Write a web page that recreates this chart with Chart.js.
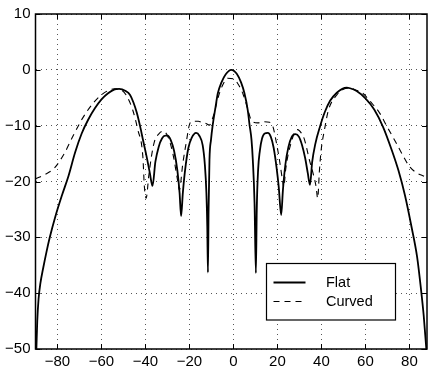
<!DOCTYPE html>
<html>
<head>
<meta charset="utf-8">
<script src="https://cdn.jsdelivr.net/npm/chart.js@4/dist/chart.umd.min.js"></script>
<style>
  html, body { margin: 0; padding: 0; background: #fff; }
  canvas { display: block; }
</style>
</head>
<body>
<canvas id="pattern" width="428" height="372"></canvas>
<script>
// angle (deg) / level (dB)
const flatX = [-89.6, -89.2, -88.6, -87.8, -86.5, -85, -83.5, -81, -78, -75, -72, -69, -66, -63, -60, -57, -54, -52, -49, -47, -45.5,
    -44, -42.5, -41, -39.5, -38, -36.8,
    -35.5, -34, -32.5, -31, -29.9, -28.5, -27, -25.5, -24.5, -23.8, -23, -22, -20.5, -19, -17, -15.5, -14, -13, -12.3, -11.9, -11.6,
    -11.3, -10.9, -10.2, -9.4, -8.2, -7.1, -5.5, -3.5, -1, 1.5, 3.5, 5, 6.5, 7.3, 8.2, 8.8, 9.6, 10.2,
    10.6, 11.2, 12, 13, 14.2, 15.6, 17, 18.3, 19.6, 20.6, 21.7, 22.5, 23.6, 25, 26.5, 28.2, 29.8, 31.2, 32.6, 33.8, 34.8,
    35.8, 37.2, 39.4, 41.5, 44, 47, 49.5, 51.5, 53, 56, 60, 64, 68, 72, 75, 78, 81, 83.5, 85.3, 86.5, 87.2, 87.7];
const flatY = [-50, -45, -41, -38.3, -35.5, -32.6, -30, -26.3, -22.5, -19, -14.8, -11.4, -8.9, -6.9, -5.3, -4.2, -3.5, -3.4, -3.8, -4.5, -5.8,
    -7.6, -10, -12.8, -15.5, -18.5, -20.8,
    -16.5, -13.8, -12.3, -11.8, -11.8, -12.6, -14.5, -18, -22, -26.2, -22, -18, -14, -12.2, -11.3, -11.8, -13.5, -17, -22, -28, -36.3,
    -25, -16.1, -12.5, -9.8, -6.8, -4.2, -2.3, -0.8, 0, -0.7, -2.3, -4.2, -7.2, -9.8, -12.5, -16.1, -24, -36.4,
    -25, -18, -14.5, -12.3, -11.4, -11.3, -12, -14, -17.5, -21, -26, -21.5, -17, -13.8, -12, -11.5, -12, -13.5, -15.8, -18.5, -20.6,
    -16.5, -13.3, -10.1, -7.6, -5.5, -4.1, -3.4, -3.2, -3.3, -3.8, -5.1, -7.1, -10.2, -14.4, -18, -22.5, -28.2, -33.5, -39.4, -44, -47.5, -50];

const curvedX = [-90, -86, -81.4, -76.8, -73, -68.5, -63.2, -57.9, -54.1, -51, -48.8, -45.8, -43.5, -41.2, -40.5, -39.7,
    -38.5, -37.4, -35.9, -34, -32.1, -30, -27.6, -25.3, -24.6, -23, -21.5, -20, -18.5, -16, -14, -12.5, -11, -9.5, -8.6,
    -7, -5, -2.6, 0, 2.5, 4.5, 6.5, 7.8, 8.8, 11, 13.5, 16.4, 17.9, 19.5, 20.9, 22.4, 22.9, 23.7, 24.7, 26.2, 27.7, 29.2,
    30.8, 32.3, 34.5, 36.5, 37.6, 38.3, 39.1, 39.9, 41.4, 43.2, 47, 50, 53, 55.5, 58.8, 62.5, 66.4, 70, 74, 77, 80, 83.5, 86.8, 88];
const curvedY = [-19.5, -18.8, -17.6, -14.9, -11.9, -8.6, -5.7, -3.9, -3.4, -3.6, -4.5, -7.2, -10.7, -15.5, -20.9, -23,
    -19, -15.8, -12.8, -11.5, -11, -11.8, -14.9, -20, -21.5, -16.7, -13.1, -9.8, -9.2, -9.2, -9.5, -9.6, -9.9, -8.7, -7.5,
    -5, -2.8, -1.5, -1.6, -2.8, -4.5, -7, -8.8, -9.3, -9.5, -9.3, -9.4, -10.1, -13, -16.1, -20, -21, -18, -15.5, -13.1, -11.3, -10.7,
    -11.3, -12.5, -16.1, -19, -21, -23, -18, -14.3, -10.7, -7.2, -4.5, -3.5, -3.3, -3.6, -4.2, -5.8, -7.7, -10.3, -13.1, -15.3, -17.3, -18.5, -19.1, -19.4];

const xTicks = [-80, -60, -40, -20, 0, 20, 40, 60, 80];
const yTicks = [-50, -40, -30, -20, -10, 0, 10];
const seriesLabels = ['Flat', 'Curved'];

const FONT = '"Liberation Sans", Arial, sans-serif';
const toPoints = (xs, ys) => xs.map((x, i) => ({ x: x, y: ys[i] }));
const minusSign = v => String(v).replace('-', '\u2212');

// MATLAB style: box, inward ticks, legend in lower right
const matlabFrame = {
    id: 'matlabFrame',
    afterDraw(chart) {
        const { ctx, chartArea: a, scales } = chart;
        ctx.save();
        ctx.strokeStyle = '#000';
        ctx.lineWidth = 1;
        ctx.beginPath();
        xTicks.forEach(v => {
            const px = Math.round(scales.x.getPixelForValue(v)) + 0.5;
            ctx.moveTo(px, a.bottom); ctx.lineTo(px, a.bottom - 5);
            ctx.moveTo(px, a.top); ctx.lineTo(px, a.top + 5);
        });
        yTicks.forEach(v => {
            const py = Math.round(scales.y.getPixelForValue(v)) + 0.5;
            ctx.moveTo(a.left, py); ctx.lineTo(a.left + 5, py);
            ctx.moveTo(a.right, py); ctx.lineTo(a.right - 5, py);
        });
        ctx.stroke();

        ctx.lineWidth = 1.5;
        ctx.strokeRect(a.left, a.top, a.right - a.left, a.bottom - a.top);

        // legend
        const lx = a.right - 160.5, ly = a.bottom - 85.5;
        ctx.fillStyle = '#fff';
        ctx.fillRect(lx, ly, 129, 56.5);
        ctx.lineWidth = 1.2;
        ctx.strokeRect(lx, ly, 129, 56.5);
        chart.data.datasets.forEach((ds, i) => {
            const y = ly + 19 + i * 19;
            ctx.beginPath();
            ctx.lineWidth = ds.borderWidth;
            ctx.setLineDash(ds.borderDash || []);
            ctx.moveTo(lx + 7, y);
            ctx.lineTo(lx + 39, y);
            ctx.stroke();
            ctx.setLineDash([]);
            ctx.fillStyle = '#000';
            ctx.font = '14.5px ' + FONT;
            ctx.textBaseline = 'middle';
            ctx.fillText(ds.label, lx + 59.5, y);
        });
        ctx.restore();
    }
};

new Chart(document.getElementById('pattern'), {
    type: 'line',
    data: {
        datasets: [
            {
                label: seriesLabels[0],
                data: toPoints(flatX, flatY),
                borderColor: '#000',
                borderWidth: 1.8,
                pointRadius: 0,
                cubicInterpolationMode: 'monotone',
                fill: false
            },
            {
                label: seriesLabels[1],
                data: toPoints(curvedX, curvedY),
                borderColor: '#000',
                borderWidth: 1.1,
                borderDash: [6, 5],
                pointRadius: 0,
                cubicInterpolationMode: 'monotone',
                fill: false
            }
        ]
    },
    options: {
        responsive: false,
        animation: false,
        layout: { padding: { top: 14, right: 1, left: 0, bottom: 0 } },
        plugins: {
            legend: { display: false },
            tooltip: { enabled: false }
        },
        scales: {
            x: {
                type: 'linear',
                min: -90,
                max: 88,
                afterBuildTicks: sc => { sc.ticks = xTicks.map(v => ({ value: v })); },
                afterFit: sc => { sc.height = 23; },
                ticks: {
                    color: '#000',
                    font: { size: 15, family: FONT },
                    padding: 4,
                    maxRotation: 0,
                    autoSkip: false,
                    callback: v => minusSign(v)
                },
                grid: { color: '#555', lineWidth: 1, drawTicks: false },
                border: { display: false, dash: [1, 4] }
            },
            y: {
                min: -50,
                max: 10,
                afterBuildTicks: sc => { sc.ticks = yTicks.map(v => ({ value: v })); },
                afterFit: sc => { sc.width = 35.5; },
                ticks: {
                    color: '#000',
                    font: { size: 15, family: FONT },
                    padding: 5,
                    callback: v => minusSign(v)
                },
                grid: { color: '#555', lineWidth: 1, drawTicks: false },
                border: { display: false, dash: [1, 4] }
            }
        }
    },
    plugins: [matlabFrame]
});
</script>
</body>
</html>
